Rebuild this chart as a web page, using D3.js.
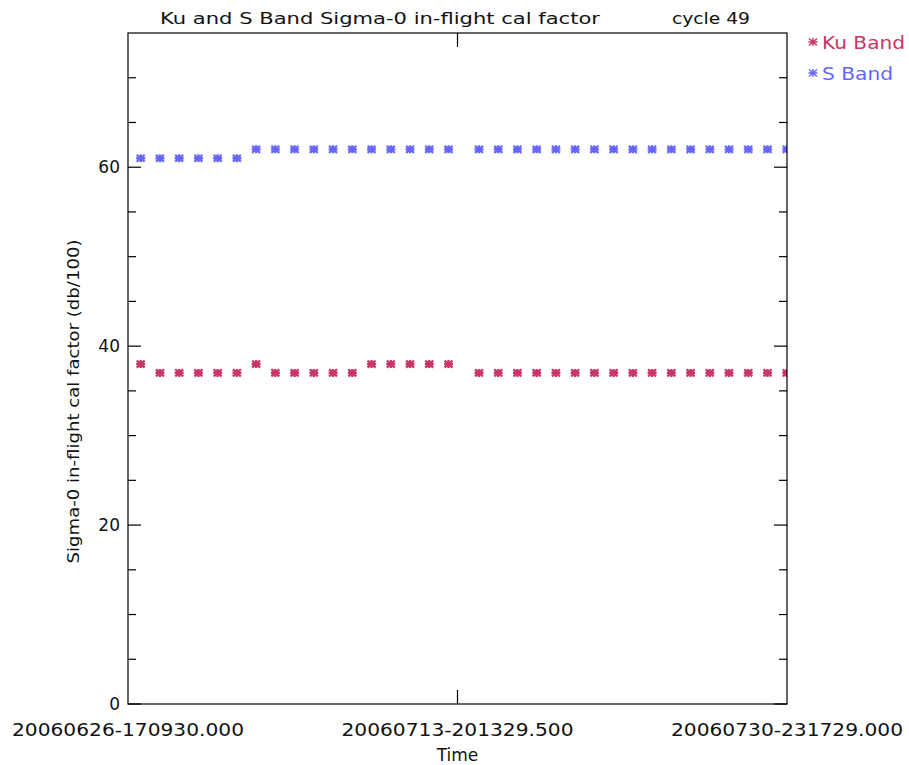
<!DOCTYPE html>
<html>
<head>
<meta charset="utf-8">
<script src="https://cdn.jsdelivr.net/npm/d3@7"></script>
<style>
  html, body { margin: 0; padding: 0; background: #fff; }
  text { font-family: "DejaVu Sans", sans-serif; fill: #111; }
</style>
</head>
<body>
<div id="chart"></div>
<script>
// sample times (UTC) of each in-flight calibration
var times = [
    "2006-06-27 09:00", "2006-06-28 09:00", "2006-06-29 09:00", "2006-06-30 09:00",
    "2006-07-01 09:00", "2006-07-02 09:00", "2006-07-03 09:00", "2006-07-04 09:00",
    "2006-07-05 09:00", "2006-07-06 09:00", "2006-07-07 09:00", "2006-07-08 09:00",
    "2006-07-09 09:00", "2006-07-10 09:00", "2006-07-11 09:00", "2006-07-12 09:00",
    "2006-07-13 09:00",
    "2006-07-14 23:00", "2006-07-15 23:00", "2006-07-16 23:00", "2006-07-17 23:00",
    "2006-07-18 23:00", "2006-07-19 23:00", "2006-07-20 23:00", "2006-07-21 23:00",
    "2006-07-22 23:00", "2006-07-23 23:00", "2006-07-24 23:00", "2006-07-25 23:00",
    "2006-07-26 23:00", "2006-07-27 23:00", "2006-07-28 23:00", "2006-07-29 23:00",
    "2006-07-30 23:00"
];
var kuBand = [38, 37, 37, 37, 37, 37, 38, 37, 37, 37, 37, 37, 38, 38, 38, 38, 38,
              37, 37, 37, 37, 37, 37, 37, 37, 37, 37, 37, 37, 37, 37, 37, 37, 37];
var sBand = [61, 61, 61, 61, 61, 61, 62, 62, 62, 62, 62, 62, 62, 62, 62, 62, 62,
             62, 62, 62, 62, 62, 62, 62, 62, 62, 62, 62, 62, 62, 62, 62, 62, 62];
var xDomain = ["2006-06-26 17:09:30", "2006-07-30 23:17:29"];
var xTickLabels = ["20060626-170930.000", "20060713-201329.500", "20060730-231729.000"];
var yMajorTicks = [0, 20, 40, 60];
var yMinorTicks = [5, 10, 15, 25, 30, 35, 45, 50, 55, 65, 70];
var seriesNames = ["Ku Band", "S Band"];
var seriesColors = ["#cc3366", "#6666ff"];

var W = 909, H = 765;
var plot = { left: 128, right: 787, top: 33, bottom: 704 };

var parseTime = d3.utcParse("%Y-%m-%d %H:%M");
var parseFull = d3.utcParse("%Y-%m-%d %H:%M:%S");
var dates = times.map(function (t) { return parseTime(t); });
var t0 = parseFull(xDomain[0]), t1 = parseFull(xDomain[1]);
var tMid = new Date((t0.getTime() + t1.getTime()) / 2);

var x = d3.scaleUtc().domain([t0, t1]).range([plot.left, plot.right]);
var y = d3.scaleLinear().domain([0, 75]).range([plot.bottom, plot.top]);

var svg = d3.select("#chart").append("svg")
    .attr("width", W)
    .attr("height", H);

svg.append("defs").append("clipPath").attr("id", "plotClip")
    .append("rect")
    .attr("x", plot.left).attr("y", plot.top)
    .attr("width", plot.right - plot.left)
    .attr("height", plot.bottom - plot.top);

// asterisk marker
var star = "M-4,-3.5L4,3.5M-4,3.5L4,-3.5M-4.5,0L4.5,0M0,-4L0,4";

function drawSeries(values, color, cls) {
    svg.append("g")
        .attr("class", cls)
        .attr("clip-path", "url(#plotClip)")
        .selectAll("path")
        .data(values)
        .enter()
        .append("path")
        .attr("d", star)
        .attr("transform", function (d, i) {
            return "translate(" + x(dates[i]) + "," + y(d) + ")";
        })
        .style("stroke", color)
        .style("stroke-width", 2.3)
        .style("fill", "none");
}
drawSeries(kuBand, seriesColors[0], "ku");
drawSeries(sBand, seriesColors[1], "s");

// frame
var axes = svg.append("g").attr("class", "axes")
    .style("stroke", "#000").style("stroke-width", 1.2);
axes.append("rect")
    .attr("x", plot.left).attr("y", plot.top)
    .attr("width", plot.right - plot.left)
    .attr("height", plot.bottom - plot.top)
    .style("fill", "none");

// y ticks on both sides
yMajorTicks.concat(yMinorTicks).forEach(function (v) {
    var len = yMajorTicks.indexOf(v) >= 0 ? 13 : 8;
    axes.append("line")
        .attr("x1", plot.left).attr("x2", plot.left + len)
        .attr("y1", y(v)).attr("y2", y(v));
    axes.append("line")
        .attr("x1", plot.right).attr("x2", plot.right - len)
        .attr("y1", y(v)).attr("y2", y(v));
});
// x tick in middle, top and bottom
axes.append("line")
    .attr("x1", x(tMid)).attr("x2", x(tMid))
    .attr("y1", plot.bottom).attr("y2", plot.bottom - 14);
axes.append("line")
    .attr("x1", x(tMid)).attr("x2", x(tMid))
    .attr("y1", plot.top).attr("y2", plot.top + 14);

// y tick labels
svg.append("g").selectAll("text")
    .data(yMajorTicks)
    .enter()
    .append("text")
    .attr("x", plot.left - 8)
    .attr("y", function (d) { return y(d) + 6; })
    .attr("text-anchor", "end")
    .style("font-size", "17px")
    .text(function (d) { return d; });

// x tick labels
svg.append("g").selectAll("text")
    .data([t0, tMid, t1])
    .enter()
    .append("text")
    .attr("x", function (d) { return x(d); })
    .attr("y", 736)
    .attr("text-anchor", "middle")
    .attr("textLength", 232)
    .attr("lengthAdjust", "spacingAndGlyphs")
    .style("font-size", "17px")
    .text(function (d, i) { return xTickLabels[i]; });

svg.append("text")
    .attr("x", x(tMid))
    .attr("y", 761)
    .attr("text-anchor", "middle")
    .style("font-size", "17px")
    .text("Time");

svg.append("text")
    .attr("transform", "translate(79," + ((plot.top + plot.bottom) / 2 + 33) + ") rotate(-90)")
    .attr("text-anchor", "middle")
    .attr("textLength", 324)
    .attr("lengthAdjust", "spacingAndGlyphs")
    .style("font-size", "16px")
    .text("Sigma-0 in-flight cal factor (db/100)");

// title
svg.append("text")
    .attr("x", 160).attr("y", 24)
    .attr("textLength", 440)
    .attr("lengthAdjust", "spacingAndGlyphs")
    .style("font-size", "16px")
    .text("Ku and S Band Sigma-0 in-flight cal factor");
svg.append("text")
    .attr("x", 672).attr("y", 24)
    .attr("textLength", 78)
    .attr("lengthAdjust", "spacingAndGlyphs")
    .style("font-size", "16px")
    .text("cycle 49");

// legend
var legendWidths = [83, 71];
var legend = svg.append("g").attr("class", "legend");
seriesNames.forEach(function (name, i) {
    var ly = 42 + i * 31;
    legend.append("path")
        .attr("d", star)
        .attr("transform", "translate(813," + ly + ")")
        .style("stroke", seriesColors[i])
        .style("stroke-width", 1.4)
        .style("fill", "none");
    legend.append("text")
        .attr("x", 822).attr("y", ly + 7)
        .attr("textLength", legendWidths[i])
        .attr("lengthAdjust", "spacingAndGlyphs")
        .style("font-size", "17px")
        .style("fill", seriesColors[i])
        .text(name);
});
</script>
</body>
</html>
